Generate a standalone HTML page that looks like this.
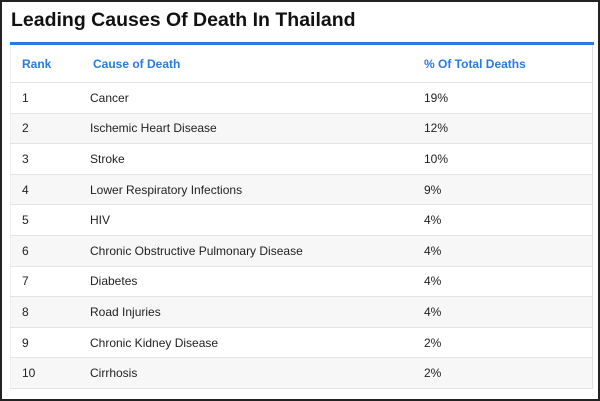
<!DOCTYPE html>
<html><head><meta charset="utf-8"><style>
body{margin:0;width:600px;height:401px;overflow:hidden;background:#fff;font-family:"Liberation Sans",Arial,sans-serif}
#frame{position:absolute;left:0;top:0;width:596px;height:397px;border:2px solid #222;background:#fff}
h1{position:absolute;left:11px;top:9px;margin:0;font-size:19.5px;font-weight:bold;color:#111}
#bar{position:absolute;left:10px;top:42px;width:584px;height:3px;background:#2a7ae2}
table{position:absolute;left:10px;top:45px;width:583px;border-collapse:collapse;border-right:1px solid #ddd;border-left:1px solid #eee}
th{color:#2a7ae2;font-size:12px;font-weight:bold;text-align:left;height:37px;padding:0;border-bottom:1px solid #e4e4e4}
td{font-size:12px;color:#222;height:29.6px;padding:0;border-bottom:1px solid #e4e4e4}
tr:nth-child(even) td{background:#f7f7f7}
.c1{padding-left:11px;width:68px}.c2{width:331px}
th.c2{padding-left:3px}
</style></head><body>
<div id="frame"></div>
<h1>Leading Causes Of Death In Thailand</h1>
<div id="bar"></div>
<table>
<thead><tr><th class="c1">Rank</th><th class="c2">Cause of Death</th><th>% Of Total Deaths</th></tr></thead>
<tbody id="tb"></tbody></table>
<script>
const causes=["Cancer","Ischemic Heart Disease","Stroke","Lower Respiratory Infections","HIV","Chronic Obstructive Pulmonary Disease","Diabetes","Road Injuries","Chronic Kidney Disease","Cirrhosis"];
const percents=[19,12,10,9,4,4,4,4,2,2];
const tb=document.getElementById('tb');
causes.forEach((c,i)=>{
const tr=document.createElement('tr');


const a=document.createElement('td');a.className='c1';a.textContent=i+1;


const b=document.createElement('td');b.className='c2';b.textContent=c;


const d=document.createElement('td');d.textContent=percents[i]+'%';


tr.append(a,b,d);tb.appendChild(tr);
});
</script>
</body></html>
